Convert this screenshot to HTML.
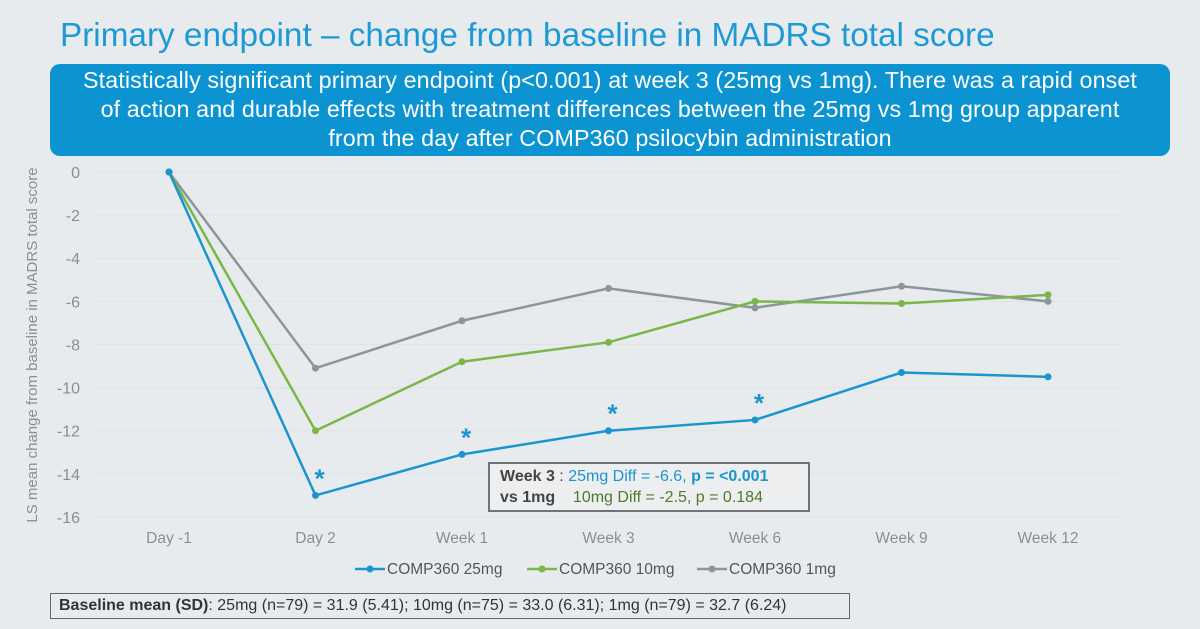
<!DOCTYPE html>
<html><head><meta charset="utf-8"><style>
body{margin:0;width:1200px;height:629px;background:#e8ebee;font-family:"Liberation Sans",sans-serif;overflow:hidden;position:relative}
#title{position:absolute;left:60px;top:17px;font-size:33.3px;color:#1d9ad6;white-space:nowrap}
#banner{position:absolute;left:50px;top:64px;width:1120px;height:92px;background:#0b93d2;border-radius:10px;color:#fff;font-size:23.3px;line-height:29px;text-align:center;padding-top:2px;box-sizing:border-box;white-space:nowrap;letter-spacing:0.1px}
#note{position:absolute;left:488px;top:462px;width:322px;height:50px;border:2px solid #6e7378;background:#eceef0;box-sizing:border-box;font-size:16px;line-height:21px;padding:2px 0 0 10px;color:#444;white-space:nowrap}
#base{position:absolute;left:50px;top:593px;width:800px;height:26px;border:1.5px solid #666;box-sizing:border-box;font-size:16px;line-height:23px;padding-left:8px;color:#333;white-space:nowrap}
</style></head><body>
<div id="title">Primary endpoint – change from baseline in MADRS total score</div>
<div id="banner">Statistically significant primary endpoint (p&lt;0.001) at week 3 (25mg vs 1mg). There was a rapid onset<br>of action and durable effects with treatment differences between the 25mg vs 1mg group apparent<br>from the day after COMP360 psilocybin administration</div>
<svg id="chart" width="1200" height="629" style="position:absolute;left:0;top:0"></svg>
<div id="note"><b>Week 3</b> : <span style="color:#1b95cf">25mg Diff = -6.6, <b>p = &lt;0.001</b></span><br><b>vs 1mg</b> &nbsp;&nbsp;&nbsp;<span style="color:#4f7a2a">10mg Diff = -2.5, p = 0.184</span></div>
<div id="base"><b>Baseline mean (SD)</b>: 25mg (n=79) = 31.9 (5.41); 10mg (n=75) = 33.0 (6.31); 1mg (n=79) = 32.7 (6.24)</div>
<script>
const categories=["Day -1","Day 2","Week 1","Week 3","Week 6","Week 9","Week 12"];
const s25=[0,-15,-13.1,-12,-11.5,-9.3,-9.5];
const s10=[0,-12,-8.8,-7.9,-6,-6.1,-5.7];
const s1=[0,-9.1,-6.9,-5.4,-6.3,-5.3,-6.0];
const yTicks=[0,-2,-4,-6,-8,-10,-12,-14,-16];
const sig=[false,true,true,true,true,false,false];
const NS="http://www.w3.org/2000/svg";
const svg=document.getElementById('chart');
const x=i=>169+i*146.5;
const y=v=>172-v*21.56;
function mk(t,a,p){const e=document.createElementNS(NS,t);for(const k in a)e.setAttribute(k,a[k]);(p||svg).appendChild(e);return e;}
yTicks.forEach(t=>{
  const g=mk('line',{x1:95,x2:1120,y1:y(t),y2:y(t),stroke:'#e0e3e6','stroke-width':1});
  
  
  const l=mk('text',{x:80,y:y(t)+6,'text-anchor':'end','font-size':16,fill:'#8a8f94'});
  l.textContent=t;
  
  
});
categories.forEach((c,i)=>{
  const l=mk('text',{x:x(i),y:543,'text-anchor':'middle','font-size':15.5,fill:'#8a8f94'});
  l.textContent=c;
  
  
});
const yt=mk('text',{transform:'translate(37,345) rotate(-90)','text-anchor':'middle','font-size':15,fill:'#8a8f94'});
yt.textContent='LS mean change from baseline in MADRS total score';


function series(d,c,name){
  const p=mk('polyline',{points:d.map((v,i)=>x(i)+','+y(v)).join(' '),fill:'none',stroke:c,'stroke-width':2.5});
  
  
  d.forEach((v,i)=>{const m=mk('circle',{cx:x(i),cy:y(v),r:3.5,fill:c});
    
    });
}
series(s1,'#8a959e','comp360-1mg');
series(s10,'#7ab648','comp360-10mg');
series(s25,'#1b95cf','comp360-25mg');
s25.forEach((v,i)=>{if(!sig[i])return;
  const a=mk('text',{x:x(i)+4,y:y(v)-8,'text-anchor':'middle','font-size':26,'font-weight':'bold',fill:'#1b95cf'});
  a.textContent='*';
  
  });
[['COMP360 25mg','#1b95cf',355],['COMP360 10mg','#7ab648',527],['COMP360 1mg','#8a959e',697]].forEach(([t,c,lx])=>{
  const g=mk('g',{});
  
  
  mk('line',{x1:lx,x2:lx+30,y1:569,y2:569,stroke:c,'stroke-width':2.5},g);
  mk('circle',{cx:lx+15,cy:569,r:3.5,fill:c},g);
  const tx=mk('text',{x:lx+32,y:574,'font-size':15.5,fill:'#555'},g);tx.textContent=t;
});
</script>
</body></html>
